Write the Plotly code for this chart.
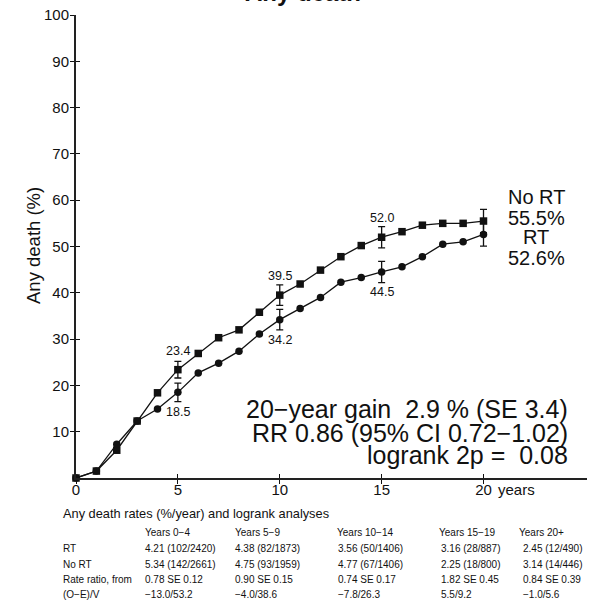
import plotly.graph_objects as go

# ---------------- data ----------------
years = list(range(0, 21))
no_rt = [0, 1.5, 6.0, 12.3, 18.4, 23.4, 26.9, 30.3, 32.0, 35.8, 39.5,
         41.9, 44.9, 47.8, 50.2, 52.0, 53.2, 54.6, 55.0, 55.0, 55.5]
rt = [0, 1.5, 7.3, 12.3, 14.9, 18.5, 22.7, 24.8, 27.4, 31.1, 34.2,
      36.6, 39.0, 42.3, 43.3, 44.5, 45.6, 47.8, 50.5, 51.0, 52.6]
err_years = [5, 10, 15, 20]
no_rt_se = [1.8, 2.2, 2.3, 2.5]
rt_se = [2.0, 2.2, 2.3, 2.5]
label_years = [5, 10, 15]

x_ticks = [0, 5, 10, 15, 20]
y_ticks = [10, 20, 30, 40, 50, 60, 70, 80, 90, 100]

summary_lines = ["20\u2212year gain  2.9 % (SE 3.4)",
                 "RR 0.86 (95% CI 0.72\u22121.02)",
                 "logrank 2p =  0.08"]
end_labels = ["No RT", "55.5%", "RT", "52.6%"]

table_title = "Any death rates (%/year) and logrank analyses"
table_header = ["", "Years 0\u22124", "Years 5\u22129", "Years 10\u221214", "Years 15\u221219", "Years 20+"]
table_rows = [
    ["RT", "4.21 (102/2420)", "4.38 (82/1873)", "3.56 (50/1406)", "3.16 (28/887)", "2.45 (12/490)"],
    ["No RT", "5.34 (142/2661)", "4.75 (93/1959)", "4.77 (67/1406)", "2.25 (18/800)", "3.14 (14/446)"],
    ["Rate ratio, from", "0.78 SE 0.12", "0.90 SE 0.15", "0.74 SE 0.17", "1.82 SE 0.45", "0.84 SE 0.39"],
    ["(O\u2212E)/V", "\u221213.0/53.2", "\u22124.0/38.6", "\u22127.8/26.3", "5.5/9.2", "\u22121.0/5.6"],
]

# ---------------- layout geometry ----------------
W, H = 589, 600
L, R, T, B = 76, 2, 15, 122
PW = W - L - R
PH = H - T - B
XMAX = PW / 20.375

def px_x(p):
    return (p - L) / PW

def px_y(p):
    return (H - B - p) / PH

FONT = "Liberation Sans, Arial, Helvetica, sans-serif"
INK = "#111111"

fig = go.Figure()

fig.add_trace(go.Scatter(x=years, y=no_rt, mode="lines+markers",
                         line=dict(color=INK, width=1.3),
                         marker=dict(symbol="square", size=7.5, color=INK),
                         cliponaxis=False, showlegend=False))
fig.add_trace(go.Scatter(x=years, y=rt, mode="lines+markers",
                         line=dict(color=INK, width=1.3),
                         marker=dict(symbol="circle", size=7.5, color=INK),
                         cliponaxis=False, showlegend=False))

# error bars
fig.add_trace(go.Scatter(x=err_years, y=[no_rt[years.index(e)] for e in err_years],
                         mode="markers", marker=dict(size=1, color="rgba(0,0,0,0)"),
                         error_y=dict(type="data", array=no_rt_se, color=INK, thickness=1.3, width=3.5),
                         showlegend=False, hoverinfo="skip"))
fig.add_trace(go.Scatter(x=err_years, y=[rt[years.index(e)] for e in err_years],
                         mode="markers", marker=dict(size=1, color="rgba(0,0,0,0)"),
                         error_y=dict(type="data", array=rt_se, color=INK, thickness=1.3, width=3.5),
                         showlegend=False, hoverinfo="skip"))

# dummy trace for crossing ticks
fig.add_trace(go.Scatter(x=[], y=[], xaxis="x2", yaxis="y2", showlegend=False))

ann = []
for yv in label_years:
    i = years.index(yv)
    ann.append(dict(x=yv, y=no_rt[i], xref="x", yref="y", text=f"{no_rt[i]:.1f}",
                    showarrow=False, yshift=19, font=dict(size=12.5, color=INK, family=FONT)))
    ann.append(dict(x=yv, y=rt[i], xref="x", yref="y", text=f"{rt[i]:.1f}",
                    showarrow=False, yshift=-20, font=dict(size=12.5, color=INK, family=FONT)))

# end labels
for txt, py in zip(end_labels, [196.7, 218.3, 237.3, 258.3]):
    ann.append(dict(x=px_x(536), y=px_y(py), xref="paper", yref="paper", text=txt,
                    showarrow=False, xanchor="center", yanchor="middle",
                    font=dict(size=20, color=INK, family=FONT)))

# summary text
for txt, py in zip(summary_lines, [409, 432.5, 455]):
    ann.append(dict(x=px_x(570), y=px_y(py), xref="paper", yref="paper", text=txt,
                    showarrow=False, xanchor="right", yanchor="middle",
                    font=dict(size=25, color=INK, family=FONT)))

# title (mostly cut off at top)
ann.append(dict(x=px_x(303), y=px_y(-7), xref="paper", yref="paper", text="<b>Any death</b>",
                showarrow=False, xanchor="center", yanchor="middle",
                font=dict(size=24, color=INK, family=FONT)))

# y axis title
ann.append(dict(x=px_x(33), y=px_y(246), xref="paper", yref="paper", text="Any death (%)",
                showarrow=False, textangle=-90, xanchor="center", yanchor="middle",
                font=dict(size=18.5, color=INK, family=FONT)))

# "years" after the 20 tick
ann.append(dict(x=px_x(496), y=px_y(489), xref="paper", yref="paper", text="years",
                showarrow=False, xanchor="left", yanchor="middle",
                font=dict(size=15, color=INK, family=FONT)))

# table
ann.append(dict(x=px_x(61), y=px_y(513), xref="paper", yref="paper", text=table_title,
                showarrow=False, xanchor="left", yanchor="middle",
                font=dict(size=12.8, color=INK, family=FONT)))
hdr_x = [61, 142.7, 233.3, 335, 437, 517]
row_x = [61, 142.7, 233.3, 335.5, 439, 520.5]
row_y = [548.3, 564, 579.3, 594.3]
for txt, xp in zip(table_header, hdr_x):
    if txt:
        ann.append(dict(x=px_x(xp), y=px_y(532.7), xref="paper", yref="paper", text=txt,
                        showarrow=False, xanchor="left", yanchor="middle",
                        font=dict(size=10, color=INK, family=FONT)))
for row, yp in zip(table_rows, row_y):
    for txt, xp in zip(row, row_x):
        ann.append(dict(x=px_x(xp), y=px_y(yp), xref="paper", yref="paper", text=txt,
                        showarrow=False, xanchor="left", yanchor="middle",
                        font=dict(size=10, color=INK, family=FONT)))

fig.update_layout(
    width=W, height=H,
    margin=dict(l=L, r=R, t=T, b=B, pad=0, autoexpand=False),
    paper_bgcolor="white", plot_bgcolor="white",
    font=dict(family=FONT, color=INK),
    xaxis=dict(range=[0, XMAX], tickvals=x_ticks, ticktext=[str(v) for v in x_ticks],
               ticks="outside", ticklen=4, tickwidth=1.3, tickcolor=INK,
               showline=True, linewidth=2, linecolor="#222222", automargin=False,
               showgrid=False, zeroline=False, ticklabelstandoff=-7,
               tickfont=dict(size=15, color=INK, family=FONT)),
    yaxis=dict(range=[0, 100], tickvals=y_ticks, ticks="outside", ticklen=4, tickwidth=1.3,
               tickcolor=INK, showline=True, linewidth=2, linecolor="#222222", automargin=False,
               showgrid=False, zeroline=False, ticklabelstandoff=-2,
               tickfont=dict(size=15, color=INK, family=FONT)),
    xaxis2=dict(range=[0, XMAX], tickvals=x_ticks[1:], overlaying="x", side="bottom",
                ticks="inside", ticklen=4, tickwidth=1.3, tickcolor=INK, showticklabels=False,
                showline=False, showgrid=False, zeroline=False),
    yaxis2=dict(range=[0, 100], tickvals=y_ticks, overlaying="y", side="left", anchor="x2",
                ticks="inside", ticklen=4, tickwidth=1.3, tickcolor=INK, showticklabels=False,
                showline=False, showgrid=False, zeroline=False),
    annotations=ann,
    showlegend=False,
)

fig.write_html("out.html", config={"displayModeBar": False},
               post_script="document.body.style.margin='0px';")
